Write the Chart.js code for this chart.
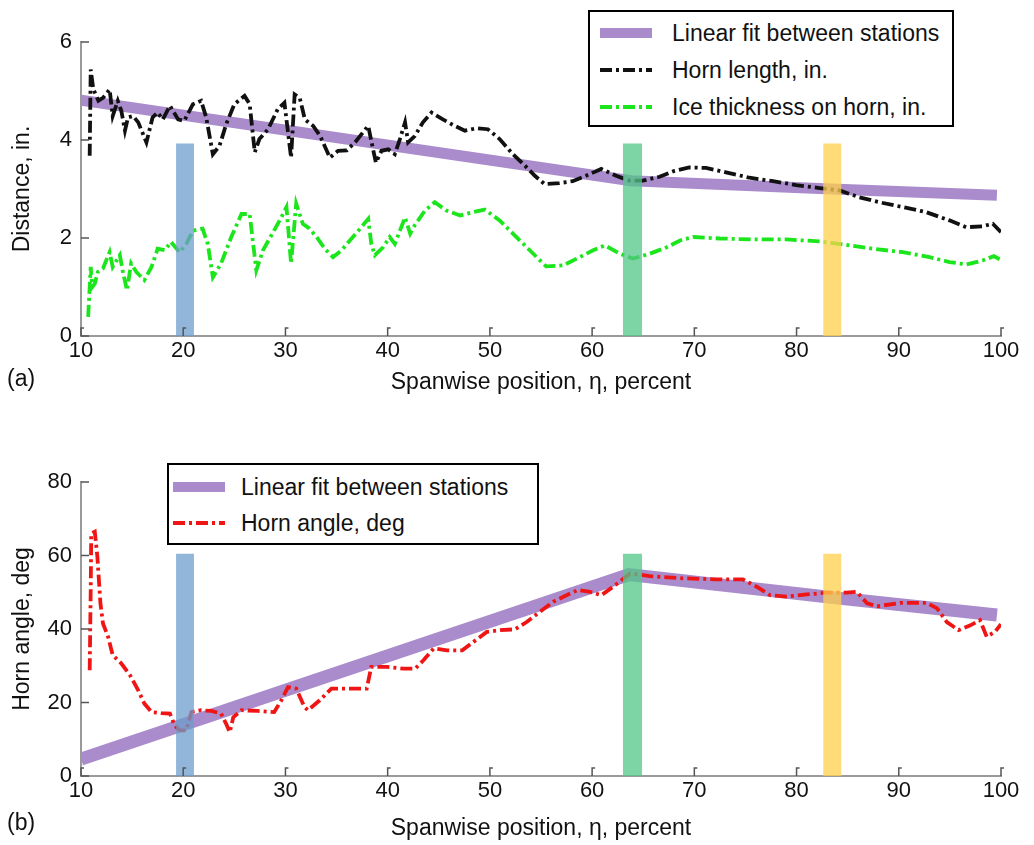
<!DOCTYPE html>
<html>
<head>
<meta charset="utf-8">
<script src="https://cdn.jsdelivr.net/npm/chart.js@4.4.1/dist/chart.umd.min.js"></script>
<style>
  body { margin: 0; background: #fff; font-family: "Liberation Sans", Arial, sans-serif; }
  #wrap { position: relative; width: 1034px; height: 845px; overflow: hidden; }
  .box { position: absolute; left: 0; width: 1034px; }
  .legend { position: absolute; border: 2px solid #000; background: #fff; box-sizing: border-box; font-size: 23px; color: #111; }
  .legend .row { position: absolute; left: 0; right: 0; height: 28px; }
  .legend svg { position: absolute; top: 7px; }
  .legend span { position: absolute; top: 0; line-height: 28px; white-space: nowrap; }
  .tag { position: absolute; font-size: 23px; color: #111; }
</style>
</head>
<body>
<div id="wrap">
  <div class="box" style="top:0;height:400px"><canvas id="chartA"></canvas></div>
  <div class="box" style="top:440px;height:405px"><canvas id="chartB"></canvas></div>
  <div id="legendA" class="legend" style="left:588px;top:10px;width:366px;height:117px"></div>
  <div id="legendB" class="legend" style="left:167px;top:463px;width:372px;height:82px"></div>
  <div class="tag" style="left:7px;top:365px">(a)</div>
  <div class="tag" style="left:7px;top:809px">(b)</div>
</div>
<script>
// station bands (spanwise %)
const stationStart = [19.3, 63.0, 82.6];
const stationEnd = [21.05, 64.9, 84.4];
const stationColors = ['rgba(108,158,204,0.75)', 'rgba(82,198,135,0.75)', 'rgba(255,208,75,0.75)'];
const stationTopH = 3.93;
const stationBotH = 60.5;

// (a) linear fit
const fitTopX = [10, 63.8, 83.4, 99.6];
const fitTopY = [4.81, 3.17, 3.0, 2.87];

// (a) horn length, in.
const hornLenX = [10.85, 10.95, 11.2, 11.7, 12.15, 12.8, 13.1, 13.6, 13.95, 14.3, 14.6, 15.1, 15.6, 16.4, 17.0, 17.5, 18.0, 18.7, 19.5, 20.1,
  20.95, 21.75, 22.25, 22.9, 23.55, 24.2, 25.0, 26.0, 26.5, 27.0, 27.45, 28.3, 29.25, 29.9, 30.55, 30.9, 31.4, 31.9, 32.7, 33.4,
  34.35, 35.15, 36.0, 36.8, 37.45, 38.1, 38.4, 38.85, 39.4, 40.05, 40.7, 41.2, 41.7, 42.0, 42.65, 43.45, 44.3, 45.4, 46.55, 47.55,
  48.7, 49.8, 50.95, 52.25, 53.55, 54.4, 55.35, 56.8, 58.1, 59.4, 60.9, 62.35, 63.65, 64.95, 66.6, 68.05, 69.5, 71.15, 73.1, 75.4,
  77.7, 79.95, 82.25, 84.2, 86.15, 88.1, 90.4, 92.65, 94.95, 96.6, 98.2, 99.2, 100];
const hornLenY = [3.68, 5.44, 5.04, 4.8, 4.86, 5.03, 4.49, 4.8, 4.59, 4.19, 4.46, 4.49, 4.36, 3.95, 4.46, 4.56, 4.42, 4.7, 4.42, 4.39,
  4.73, 4.8, 4.46, 3.71, 3.88, 4.32, 4.73, 4.9, 4.73, 3.75, 4.02, 4.22, 4.63, 4.76, 3.64, 4.93, 4.86, 4.42, 4.29, 4.08,
  3.64, 3.78, 3.79, 3.95, 4.12, 4.29, 3.98, 3.54, 3.78, 3.81, 3.71, 4.02, 4.36, 3.95, 4.08, 4.36, 4.56, 4.42, 4.29, 4.19,
  4.24, 4.22, 4.02, 3.71, 3.45, 3.27, 3.10, 3.12, 3.16, 3.27, 3.41, 3.27, 3.17, 3.17, 3.25, 3.37, 3.44, 3.43, 3.34, 3.23,
  3.16, 3.08, 3.02, 2.97, 2.83, 2.73, 2.63, 2.53, 2.36, 2.22, 2.24, 2.29, 2.12];

// (a) ice thickness on horn, in.
const iceX = [10.7, 10.95, 11.1, 11.35, 11.65, 12.15, 12.8, 13.1, 13.8, 14.1, 14.5, 14.9, 15.4, 16.2, 16.9, 17.5, 18.2, 18.8, 19.65, 20.3,
  20.95, 21.9, 22.4, 22.9, 23.7, 24.7, 25.7, 26.5, 27.15, 27.8, 28.8, 29.6, 30.1, 30.55, 31.05, 31.7, 32.3, 33.05, 33.85, 34.65,
  35.5, 36.3, 37.3, 38.1, 38.4, 38.75, 39.55, 40.2, 40.7, 41.2, 41.7, 42.2, 42.65, 43.65, 44.6, 45.75, 47.1, 48.4, 49.5, 50.95,
  52.45, 53.9, 55.5, 57.15, 58.8, 60.1, 61.25, 62.7, 64.0, 65.65, 67.3, 68.6, 69.9, 72.5, 75.8, 79.05, 82.3, 85.2, 87.5, 90.4,
  93.0, 94.95, 96.6, 98.2, 99.3, 100];
const iceY = [0.39, 1.41, 1.0, 1.07, 1.31, 1.38, 1.71, 1.41, 1.65, 1.31, 0.93, 1.48, 1.31, 1.14, 1.41, 1.78, 1.75, 1.92, 1.71, 1.88,
  2.15, 2.19, 1.88, 1.2, 1.48, 2.02, 2.49, 2.49, 1.34, 1.75, 2.12, 2.42, 2.63, 1.48, 2.7, 2.29, 2.2, 2.02, 1.78, 1.61,
  1.75, 1.95, 2.19, 2.39, 1.88, 1.65, 1.81, 2.02, 1.88, 2.15, 2.42, 2.09, 2.26, 2.56, 2.73, 2.56, 2.46, 2.53, 2.58, 2.36,
  2.05, 1.75, 1.42, 1.44, 1.61, 1.75, 1.85, 1.68, 1.58, 1.68, 1.81, 1.95, 2.02, 1.99, 1.97, 1.97, 1.93, 1.85, 1.78, 1.71,
  1.61, 1.51, 1.46, 1.54, 1.63, 1.55];

// (b) linear fit
const fitBotX = [10, 63.6, 83.4, 99.6];
const fitBotY = [4.6, 54.8, 48.6, 43.8];

// (b) horn angle, deg
const angleX = [10.85, 10.95, 11.0, 11.35, 11.6, 11.9, 12.15, 12.65, 13.1, 13.95, 14.8, 15.6, 16.2, 16.9, 17.85, 18.7, 19.15, 19.65, 20.3, 20.8,
  21.75, 22.75, 23.7, 24.2, 24.55, 24.9, 25.7, 27.3, 28.9, 29.6, 30.25, 31.05, 31.85, 32.2, 33.35, 34.5, 36.3, 37.95, 38.4, 39.9,
  41.55, 42.7, 43.5, 44.5, 45.8, 47.3, 48.4, 49.7, 51.0, 52.45, 53.6, 54.9, 56.2, 57.5, 58.6, 59.8, 60.9, 62.2, 63.7, 65.65,
  68.9, 72.15, 74.75, 76.1, 77.4, 79.05, 81.0, 82.95, 84.9, 85.9, 86.9, 87.9, 90.15, 92.75, 93.75, 94.7, 95.85, 97.0, 97.95, 98.6,
  99.4, 100];
const angleY = [28.8, 50.6, 66, 66.5, 59.7, 47, 41.5, 37.9, 32.9, 30.6, 27.4, 23.3, 19.7, 17.4, 17.1, 17.0, 13.8, 12.4, 12.4, 17.4,
  17.9, 17.7, 17.0, 14.2, 11.9, 16.0, 17.9, 17.7, 17.4, 20.6, 24.2, 23.8, 18.8, 17.9, 20.6, 23.8, 23.8, 23.8, 29.7, 29.7,
  29.2, 29.2, 31.5, 34.7, 34.2, 34.2, 36.5, 39.2, 39.7, 39.9, 41.9, 44.7, 47.4, 49.2, 50.6, 50.1, 49.2, 51.8, 55.1, 54.4,
  53.8, 53.5, 53.5, 51.5, 49.2, 48.8, 49.4, 49.9, 49.9, 50.1, 47.0, 46.2, 47.1, 47.1, 45.6, 41.9, 39.7, 41.0, 42.4, 37.9,
  39.2, 41.3];

const xTicks = [10, 20, 30, 40, 50, 60, 70, 80, 90, 100];
const xTitle = 'Spanwise position, \u03b7, percent';

const PURPLE = '#aa8ccc';
const DASH = [12, 4, 3, 4];
const pts = (xs, ys) => xs.map((v, i) => ({ x: v, y: ys[i] }));

function station(i, h) {
  return {
    label: 'station', data: [{ x: stationStart[i], y: h }, { x: stationEnd[i], y: h }],
    fill: 'origin', backgroundColor: stationColors[i], borderColor: 'transparent', borderWidth: 0, order: 0
  };
}

// small inward tick marks like the original plot
const innerTicks = {
  id: 'innerTicks',
  afterDraw(chart) {
    const { ctx, scales: { x, y } } = chart;
    ctx.save();
    ctx.strokeStyle = '#555';
    ctx.lineWidth = 1.5;
    x.ticks.forEach(t => {
      const px = x.getPixelForValue(t.value);
      ctx.beginPath();
      ctx.moveTo(px, y.bottom); ctx.lineTo(px, y.bottom - 8); ctx.lineTo(px + 3, y.bottom - 8);
      ctx.stroke();
    });
    y.ticks.forEach(t => {
      const py = y.getPixelForValue(t.value);
      ctx.beginPath(); ctx.moveTo(x.left, py); ctx.lineTo(x.left + 8, py); ctx.stroke();
    });
    ctx.restore();
  }
};

const FONT = { size: 23, family: 'Liberation Sans' };

function makeChart(id, datasets, yMax, yStep, yTitle, axisH, titleBottom) {
  return new Chart(document.getElementById(id), {
    type: 'line',
    data: { datasets },
    options: {
      responsive: true, maintainAspectRatio: false, animation: false,
      layout: { padding: { top: 42, right: 33, left: 0, bottom: 0 } },
      elements: { point: { radius: 0 }, line: { tension: 0 } },
      plugins: { legend: { display: false }, tooltip: { enabled: false } },
      scales: {
        x: {
          type: 'linear', min: 10, max: 100,
          afterBuildTicks: s => { s.ticks = xTicks.map(v => ({ value: v })); },
          afterFit: s => { s.height = axisH; },
          grid: { display: false, drawTicks: false },
          border: { display: true, color: '#9a9a9a', width: 2 },
          ticks: { color: '#111', padding: 2, maxRotation: 0, font: { size: 22, family: 'Liberation Sans' } },
          title: { display: true, text: xTitle, color: '#111', padding: { top: 0, bottom: titleBottom }, font: FONT }
        },
        y: {
          min: 0, max: yMax,
          afterFit: s => { s.width = 81; },
          grid: { display: false, drawTicks: false },
          border: { display: true, color: '#9a9a9a', width: 2 },
          ticks: { stepSize: yStep, color: '#111', padding: 9, font: { size: 22, family: 'Liberation Sans' } },
          title: { display: true, text: yTitle, color: '#111', padding: { top: 9, bottom: 0 }, font: FONT }
        }
      }
    },
    plugins: [innerTicks]
  });
}

const seriesA = [
  { label: 'Linear fit between stations', data: pts(fitTopX, fitTopY), borderColor: PURPLE, borderWidth: 11, order: 3 },
  { label: 'Horn length, in.', data: pts(hornLenX, hornLenY), borderColor: '#111', borderWidth: 3.8, borderDash: DASH, order: 2 },
  { label: 'Ice thickness on horn, in.', data: pts(iceX, iceY), borderColor: '#1be61b', borderWidth: 3.8, borderDash: DASH, order: 2 }
];
const seriesB = [
  { label: 'Linear fit between stations', data: pts(fitBotX, fitBotY), borderColor: PURPLE, borderWidth: 13, order: 3 },
  { label: 'Horn angle, deg', data: pts(angleX, angleY), borderColor: '#f01515', borderWidth: 3.8, borderDash: DASH, order: 2 }
];

makeChart('chartA', [...seriesA, station(0, stationTopH), station(1, stationTopH), station(2, stationTopH)],
  6, 2, 'Distance, in.', 64, 4);
makeChart('chartB', [...seriesB, station(0, stationBotH), station(1, stationBotH), station(2, stationBotH)],
  80, 20, 'Horn angle, deg', 69, 3);

function buildLegend(id, series, rowTops, sampleLeft, textLeft) {
  const box = document.getElementById(id);
  series.forEach((s, i) => {
    const row = document.createElement('div');
    row.className = 'row';
    row.style.top = rowTops[i] + 'px';
    const dash = s.borderDash ? `stroke-dasharray="${s.borderDash.join(' ')}"` : '';
    const w = s.borderDash ? 4 : 10;
    row.innerHTML = `<svg width="52" height="14" style="left:${sampleLeft}px"><line x1="0" y1="7" x2="52" y2="7" stroke="${s.borderColor}" stroke-width="${w}" ${dash}/></svg>` +
      `<span style="left:${textLeft}px">${s.label}</span>`;
    box.appendChild(row);
  });
}
buildLegend('legendA', seriesA, [7, 44, 81], 10, 82);
buildLegend('legendB', seriesB, [8, 44], 4, 72);
</script>
</body>
</html>
